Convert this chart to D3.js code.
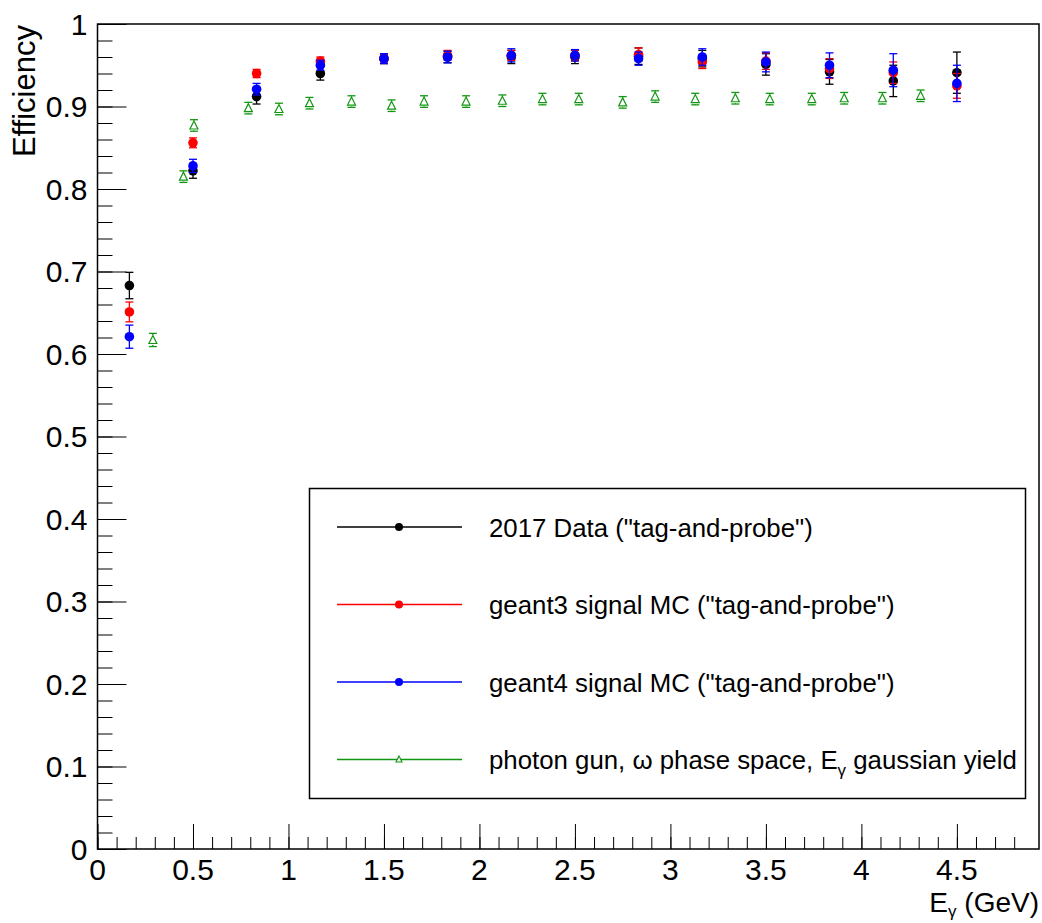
<!DOCTYPE html>
<html>
<head>
<meta charset="utf-8">
<script src="https://cdn.jsdelivr.net/npm/d3@7"></script>
<style>
  html, body { margin: 0; padding: 0; background: #fff; }
  svg { display: block; font-family: "Liberation Sans", Arial, Helvetica, sans-serif; }
</style>
</head>
<body>
<svg id="chart" width="1042" height="923"></svg>
<script>
// Photon reconstruction efficiency vs photon energy

// Bin centres (GeV) for the tag-and-probe samples
const binCenters = [0.167, 0.5, 0.833, 1.167, 1.5, 1.833, 2.167, 2.5, 2.833, 3.167, 3.5, 3.833, 4.167, 4.5];

// 2017 data (tag-and-probe)
const dataEff = [0.683, 0.822, 0.912, 0.940, 0.958, 0.960, 0.960, 0.960, 0.961, 0.958, 0.951, 0.942, 0.931, 0.941];
const dataErr = [0.016, 0.009, 0.009, 0.008, 0.006, 0.007, 0.008, 0.008, 0.010, 0.010, 0.013, 0.015, 0.019, 0.025];

// geant3 signal MC (tag-and-probe)
const g3Eff = [0.651, 0.856, 0.940, 0.955, 0.958, 0.962, 0.962, 0.962, 0.963, 0.954, 0.955, 0.946, 0.941, 0.925];
const g3Err = [0.012, 0.006, 0.005, 0.005, 0.005, 0.006, 0.006, 0.006, 0.008, 0.008, 0.010, 0.012, 0.013, 0.015];

// geant4 signal MC (tag-and-probe)
const g4Eff = [0.621, 0.828, 0.921, 0.950, 0.958, 0.960, 0.962, 0.962, 0.958, 0.960, 0.954, 0.950, 0.944, 0.928];
const g4Err = [0.014, 0.008, 0.007, 0.006, 0.006, 0.007, 0.008, 0.007, 0.008, 0.010, 0.012, 0.015, 0.020, 0.022];

// photon gun, omega phase space, gaussian yield
const gunX   = [0.29, 0.45, 0.505, 0.79, 0.95, 1.11, 1.33, 1.54, 1.71, 1.93, 2.12, 2.33, 2.52, 2.75, 2.92, 3.13, 3.34, 3.52, 3.74, 3.91, 4.11, 4.31];
const gunEff = [0.617, 0.815, 0.877, 0.898, 0.897, 0.904, 0.906, 0.901, 0.906, 0.906, 0.907, 0.909, 0.909, 0.905, 0.912, 0.909, 0.910, 0.909, 0.909, 0.910, 0.910, 0.913];
const gunErr = [0.008, 0.007, 0.007, 0.007, 0.007, 0.007, 0.007, 0.007, 0.007, 0.007, 0.007, 0.007, 0.007, 0.007, 0.007, 0.007, 0.007, 0.007, 0.007, 0.007, 0.007, 0.007];

// Axis ticks
const xMajorTicks = [0, 0.5, 1, 1.5, 2, 2.5, 3, 3.5, 4, 4.5];
const xTickLabels = ["0", "0.5", "1", "1.5", "2", "2.5", "3", "3.5", "4", "4.5"];
const yMajorTicks = [0, 0.1, 0.2, 0.3, 0.4, 0.5, 0.6, 0.7, 0.8, 0.9, 1];
const yTickLabels = ["0", "0.1", "0.2", "0.3", "0.4", "0.5", "0.6", "0.7", "0.8", "0.9", "1"];
const xDomain = [0, 4.93];
const yDomain = [0, 1];

const legendLabels = [
  '2017 Data ("tag-and-probe")',
  'geant3 signal MC ("tag-and-probe")',
  'geant4 signal MC ("tag-and-probe")'
];

const series = [
  { x: binCenters, y: dataEff, e: dataErr, color: "#000000", marker: "circle", label: legendLabels[0] },
  { x: binCenters, y: g3Eff,   e: g3Err,   color: "#ff0000", marker: "circle", label: legendLabels[1] },
  { x: binCenters, y: g4Eff,   e: g4Err,   color: "#0000ff", marker: "circle", label: legendLabels[2] },
  { x: gunX,       y: gunEff,  e: gunErr,  color: "#129612", marker: "triangle", label: null }
];

const svg = d3.select("#chart");
const frame = { left: 97.5, right: 1039, top: 24, bottom: 849 };

const x = d3.scaleLinear().domain(xDomain).range([frame.left, frame.right]);
const y = d3.scaleLinear().domain(yDomain).range([frame.bottom, frame.top]);

const tickFont = 30;

// Frame
svg.append("rect")
  .attr("x", frame.left).attr("y", frame.top)
  .attr("width", frame.right - frame.left).attr("height", frame.bottom - frame.top)
  .attr("fill", "none").attr("stroke", "#000").attr("stroke-width", 1.5);

// X axis: minor ticks every 0.1, major every 0.5, drawn inward
const xMinor = d3.range(0, 49).map(i => +(i * 0.1).toFixed(1)).filter(v => v <= xDomain[1]);
const xAxisMinor = d3.axisTop(x).tickValues(xMinor).tickSize(12).tickFormat("");
const xAxisMajor = d3.axisTop(x).tickValues(xMajorTicks).tickSize(25).tickFormat("");
[xAxisMinor, xAxisMajor].forEach(ax => {
  const g = svg.append("g").attr("transform", `translate(0,${frame.bottom})`).call(ax);
  g.select(".domain").remove();
  g.selectAll("line").attr("stroke", "#000").attr("stroke-width", 1);
});
svg.append("g").selectAll("text").data(xMajorTicks).join("text")
  .attr("x", d => x(d)).attr("y", frame.bottom + 31)
  .attr("text-anchor", "middle").attr("font-size", tickFont)
  .text((d, i) => xTickLabels[i]);

// Y axis: minor ticks every 0.02, major every 0.1, drawn inward
const yMinor = d3.range(0, 51).map(i => +(i * 0.02).toFixed(2));
const yAxisMinor = d3.axisRight(y).tickValues(yMinor).tickSize(15).tickFormat("");
const yAxisMajor = d3.axisRight(y).tickValues(yMajorTicks).tickSize(29).tickFormat("");
[yAxisMinor, yAxisMajor].forEach(ax => {
  const g = svg.append("g").attr("transform", `translate(${frame.left},0)`).call(ax);
  g.select(".domain").remove();
  g.selectAll("line").attr("stroke", "#000").attr("stroke-width", 1);
});
svg.append("g").selectAll("text").data(yMajorTicks).join("text")
  .attr("x", frame.left - 10).attr("y", d => y(d) + tickFont * 0.358)
  .attr("text-anchor", "end").attr("font-size", tickFont)
  .text((d, i) => yTickLabels[i]);

// Axis titles
svg.append("text")
  .attr("transform", `translate(35,${frame.top + 1}) rotate(-90)`)
  .attr("text-anchor", "end").attr("font-size", 31)
  .text("Efficiency");

const xt = svg.append("text")
  .attr("x", frame.right).attr("y", 912)
  .attr("text-anchor", "end").attr("font-size", 28);
xt.append("tspan").text("E");
xt.append("tspan").attr("font-size", 17).attr("dy", 5).text("γ");
xt.append("tspan").attr("dy", -5).text(" (GeV)");

// Markers and error bars
const capHalf = 4;
function drawSeries(s) {
  const g = svg.append("g");
  const pts = s.x.map((xv, i) => ({ x: xv, y: s.y[i], e: s.e[i] }));
  const isTri = s.marker === "triangle";
  const gap = isTri ? 5 : 0;
  pts.forEach(p => {
    const cx = x(p.x), cy = y(p.y), top = y(p.y + p.e), bot = y(p.y - p.e);
    g.append("line").attr("x1", cx).attr("x2", cx).attr("y1", top).attr("y2", cy - gap)
      .attr("stroke", s.color).attr("stroke-width", 1.3);
    g.append("line").attr("x1", cx).attr("x2", cx).attr("y1", cy + gap).attr("y2", bot)
      .attr("stroke", s.color).attr("stroke-width", 1.3);
    [top, bot].forEach(yy => g.append("line")
      .attr("x1", cx - capHalf).attr("x2", cx + capHalf).attr("y1", yy).attr("y2", yy)
      .attr("stroke", s.color).attr("stroke-width", 1.3));
    if (isTri) {
      g.append("path")
        .attr("d", `M${cx},${cy - 4.5}L${cx + 4},${cy + 3.5}L${cx - 4},${cy + 3.5}Z`)
        .attr("fill", "none").attr("stroke", s.color).attr("stroke-width", 1.2);
    } else {
      g.append("circle").attr("cx", cx).attr("cy", cy).attr("r", 4.8).attr("fill", s.color);
    }
  });
}
series.forEach(drawSeries);

// Legend
const legend = { x0: 309.5, y0: 488.5, x1: 1025.5, y1: 798.5 };
svg.append("rect")
  .attr("x", legend.x0).attr("y", legend.y0)
  .attr("width", legend.x1 - legend.x0).attr("height", legend.y1 - legend.y0)
  .attr("fill", "#fff").attr("stroke", "#000").attr("stroke-width", 1.5);

const rowY = [527, 604.5, 682, 759.5];
const legendFont = 25.8;
series.forEach((s, i) => {
  const ry = rowY[i];
  svg.append("line").attr("x1", 337).attr("x2", 462).attr("y1", ry).attr("y2", ry)
    .attr("stroke", s.color).attr("stroke-width", 1.3);
  if (s.marker === "triangle") {
    svg.append("path")
      .attr("d", `M399,${ry - 3.5}L402,${ry + 2.5}L396,${ry + 2.5}Z`)
      .attr("fill", "#fff").attr("stroke", s.color).attr("stroke-width", 1.1);
  } else {
    svg.append("circle").attr("cx", 399).attr("cy", ry).attr("r", 4).attr("fill", s.color);
  }
});

legendLabels.forEach((t, i) => {
  svg.append("text").attr("x", 489).attr("y", rowY[i] + 9.5)
    .attr("font-size", legendFont).text(t);
});
const lastRow = svg.append("text").attr("x", 489).attr("y", rowY[3] + 9.5)
  .attr("font-size", legendFont);
lastRow.append("tspan").text("photon gun, ω phase space, E");
lastRow.append("tspan").attr("font-size", 17).attr("dy", 7).text("γ");
lastRow.append("tspan").attr("dy", -7).text(" gaussian yield");
</script>
</body>
</html>
